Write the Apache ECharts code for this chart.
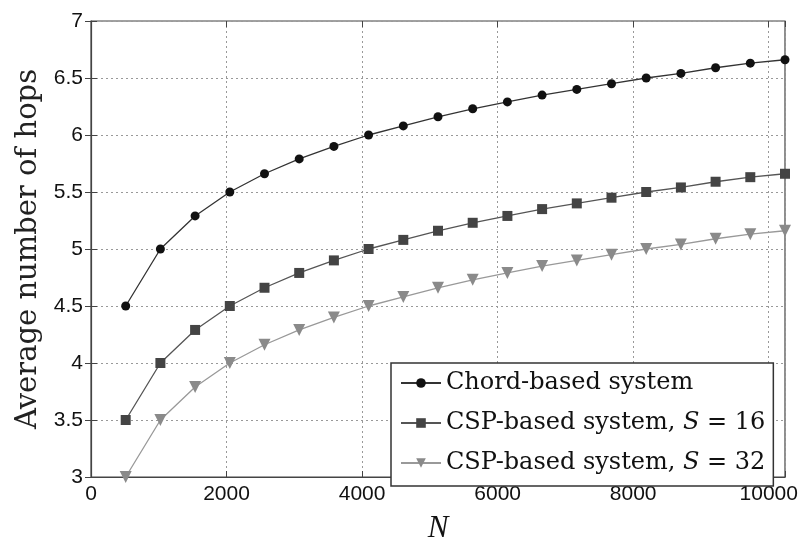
<!DOCTYPE html>
<html>
<head>
<meta charset="utf-8">
<script src="https://cdn.jsdelivr.net/npm/echarts@6/dist/echarts.min.js"></script>
<style>
html, body { margin: 0; padding: 0; background: #fff; }
#main { width: 809px; height: 549px; }
</style>
</head>
<body>
<div id="main"></div>
<script>
var nValues = [512, 1024, 1536, 2048, 2560, 3072, 3584, 4096, 4608, 5120,
    5632, 6144, 6656, 7168, 7680, 8192, 8704, 9216, 9728, 10240];
var chordHops = [4.50, 5.00, 5.29, 5.50, 5.66, 5.79, 5.90, 6.00, 6.08, 6.16,
    6.23, 6.29, 6.35, 6.40, 6.45, 6.50, 6.54, 6.59, 6.63, 6.66];
var csp16Hops = [3.50, 4.00, 4.29, 4.50, 4.66, 4.79, 4.90, 5.00, 5.08, 5.16,
    5.23, 5.29, 5.35, 5.40, 5.45, 5.50, 5.54, 5.59, 5.63, 5.66];
var csp32Hops = [3.00, 3.50, 3.79, 4.00, 4.16, 4.29, 4.40, 4.50, 4.58, 4.66,
    4.73, 4.79, 4.85, 4.90, 4.95, 5.00, 5.04, 5.09, 5.13, 5.16];
var seriesNames = ['Chord-based system', 'CSP-based system, S = 16', 'CSP-based system, S = 32'];

function pairs(ys) {
    return nValues.map(function (n, i) {
        return [n, ys[i]];
    });
}

var chartDom = document.getElementById('main');
var myChart = echarts.init(chartDom);
var option;

var serif = '"DejaVu Serif", "Liberation Serif", serif';
var sans = '"Liberation Sans", Arial, sans-serif';

var gridLine = {
    show: true,
    lineStyle: { color: '#999', type: [2, 3], width: 1 }
};

option = {
    backgroundColor: '#fff',
    animation: false,
    grid: {
        left: 91,
        right: 24,
        top: 21,
        bottom: 57,
        show: true,
        borderColor: '#444',
        borderWidth: 1.2
    },
    xAxis: [{
        type: 'value',
        min: 0,
        max: 10240,
        interval: 2000,
        name: 'N',
        nameLocation: 'middle',
        nameGap: 36,
        nameTextStyle: { fontFamily: '"Liberation Serif", serif', fontStyle: 'italic', fontSize: 31, color: '#111' },
        axisLine: { show: true, onZero: false, lineStyle: { color: '#444', width: 1.2 } },
        axisTick: { show: true, inside: true, length: 6, lineStyle: { color: '#444' } },
        axisLabel: {
            margin: 7,
            fontFamily: sans,
            fontSize: 21,
            color: '#111',
            formatter: function (v) { return v % 2000 === 0 ? String(v) : ''; }
        },
        splitLine: gridLine
    }, {
        type: 'value',
        position: 'top',
        min: 0,
        max: 10240,
        interval: 2000,
        axisLine: { show: false },
        axisTick: { show: true, inside: true, length: 6, lineStyle: { color: '#444' } },
        axisLabel: { show: false },
        splitLine: { show: false }
    }],
    yAxis: [{
        type: 'value',
        min: 3,
        max: 7,
        interval: 0.5,
        name: 'Average number of hops',
        nameLocation: 'middle',
        nameGap: 48,
        nameTextStyle: { fontFamily: serif, fontSize: 29, color: '#222' },
        axisLine: { show: true, lineStyle: { color: '#444', width: 1.2 } },
        axisTick: { show: true, inside: true, length: 6, lineStyle: { color: '#444' } },
        axisLabel: { margin: 8, fontFamily: sans, fontSize: 21, color: '#111' },
        splitLine: gridLine
    }, {
        type: 'value',
        position: 'right',
        min: 3,
        max: 7,
        interval: 0.5,
        axisLine: { show: false },
        axisTick: { show: true, inside: true, length: 6, lineStyle: { color: '#444' } },
        axisLabel: { show: false },
        splitLine: { show: false }
    }],
    legend: {
        left: 391,
        top: 363,
        orient: 'vertical',
        backgroundColor: '#fff',
        borderColor: '#333',
        borderWidth: 1.5,
        borderRadius: 0,
        padding: [7, 8, 10, 9],
        itemWidth: 40,
        itemHeight: 12,
        itemGap: 14,
        data: seriesNames,
        formatter: function (name) {
            if (name.indexOf('S = ') > 0) {
                var num = name.split('= ')[1];
                return '{a|CSP-based system, }{i|S}{a| = ' + num + '}';
            }
            return '{a|' + name + '}';
        },
        textStyle: {
            fontFamily: serif,
            fontSize: 24,
            color: '#111',
            lineHeight: 26,
            rich: {
                a: { fontFamily: serif, fontSize: 24, color: '#111', lineHeight: 26 },
                i: { fontFamily: serif, fontSize: 24, fontStyle: 'italic', color: '#111', lineHeight: 26 }
            }
        }
    },
    series: [{
        name: seriesNames[0],
        type: 'line',
        data: pairs(chordHops),
        symbol: 'circle',
        symbolSize: 9,
        itemStyle: { color: '#111' },
        lineStyle: { color: '#333', width: 1.3 },
        z: 5
    }, {
        name: seriesNames[1],
        type: 'line',
        data: pairs(csp16Hops),
        symbol: 'rect',
        symbolSize: 10,
        itemStyle: { color: '#444' },
        lineStyle: { color: '#555', width: 1.3 },
        z: 4
    }, {
        name: seriesNames[2],
        type: 'line',
        data: pairs(csp32Hops),
        symbol: 'triangle',
        symbolRotate: 180,
        symbolSize: 12,
        itemStyle: { color: '#8a8a8a' },
        lineStyle: { color: '#999', width: 1.3 },
        z: 3
    }]
};

myChart.setOption(option);
</script>
</body>
</html>
